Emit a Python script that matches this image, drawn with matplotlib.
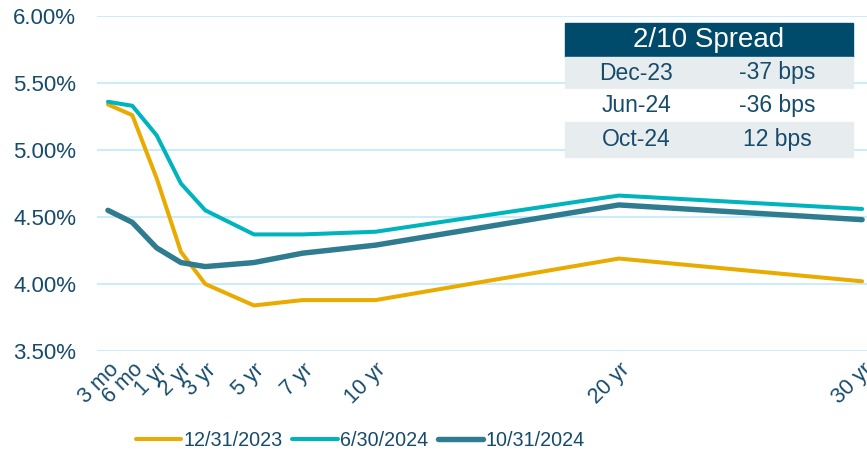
import matplotlib
matplotlib.use("Agg")
import matplotlib.pyplot as plt
from matplotlib.patches import Rectangle
from matplotlib.ticker import FuncFormatter

plt.rcParams["font.family"] = ["Liberation Sans", "DejaVu Sans"]

# --- data ---
maturities = ["3 mo", "6 mo", "1 yr", "2 yr", "3 yr", "5 yr", "7 yr", "10 yr", "20 yr", "30 yr"]
x_pos = [-1, 0, 1, 2, 3, 5, 7, 10, 20, 30]
dec23 = [5.34, 5.26, 4.79, 4.24, 4.00, 3.84, 3.88, 3.88, 4.19, 4.02]
jun24 = [5.36, 5.33, 5.11, 4.75, 4.55, 4.37, 4.37, 4.39, 4.66, 4.56]
oct24 = [4.55, 4.46, 4.27, 4.16, 4.13, 4.16, 4.23, 4.29, 4.59, 4.48]
series_names = ["12/31/2023", "6/30/2024", "10/31/2024"]

spread_dates = ["Dec-23", "Jun-24", "Oct-24"]
spread_vals = ["-37 bps", "-36 bps", "12 bps"]

TEXT = "#174B6B"
COLORS = ["#E9AB00", "#00B4BE", "#2F7B8F"]
WIDTHS = [2.9, 2.9, 3.9]

fig = plt.figure(figsize=(8.67, 4.58), dpi=100)
ax = fig.add_axes([97 / 867, 1 - 351 / 458, 1 - 97 / 867, (351 - 16) / 458])

for ys, name, c, lw in zip([dec23, jun24, oct24], series_names, COLORS, WIDTHS):
    ax.plot(x_pos, ys, color=c, lw=lw, label=name, solid_capstyle="round",
            solid_joinstyle="round")

ax.set_xlim(-1.45, 30.2)
ax.set_ylim(3.5, 6.0)
ax.set_yticks([3.5, 4.0, 4.5, 5.0, 5.5, 6.0])
ax.yaxis.set_major_formatter(FuncFormatter(lambda v, _: f"{v:.2f}%"))
ax.set_xticks(x_pos)
ax.set_xticklabels(maturities, rotation=45, ha="right", rotation_mode="anchor")
ax.tick_params(axis="both", length=0, labelsize=15.5, colors=TEXT)
ax.tick_params(axis="y", labelsize=16, pad=15)
ax.tick_params(axis="x", pad=6)
ax.grid(axis="y", color="#C9EDFB", lw=1.4)
ax.set_axisbelow(True)
for s in ax.spines.values():
    s.set_visible(False)

leg = fig.legend(loc="lower left", bbox_to_anchor=(122 / 867, -0.012), ncol=3,
                 frameon=False, fontsize=14.2, handlelength=2.3, handletextpad=0.1,
                 columnspacing=0.5, borderaxespad=0.3)
for t in leg.get_texts():
    t.set_color(TEXT)

# --- 2/10 spread table ---
left, right = 565 / 867, 853 / 867
rows_px = [23, 57, 89, 122, 157]
def fy(p):
    return 1 - p / 458

fig.patches.append(Rectangle((left, fy(rows_px[1])), right - left, fy(rows_px[0]) - fy(rows_px[1]),
                             transform=fig.transFigure, color="#004B6B", zorder=5))
fig.text((left + right) / 2, (fy(rows_px[0]) + fy(rows_px[1])) / 2, "2/10 Spread",
         color="white", fontsize=20, ha="center", va="center", zorder=6)
for i, (d, v) in enumerate(zip(spread_dates, spread_vals)):
    top, bot = fy(rows_px[i + 1]), fy(rows_px[i + 2])
    fc = "#E7ECEE" if i % 2 == 0 else "white"
    fig.patches.append(Rectangle((left, bot), right - left, top - bot,
                                 transform=fig.transFigure, color=fc, zorder=5))
    ym = (top + bot) / 2
    fig.text(636 / 867, ym, d, color=TEXT, fontsize=16.5, ha="center", va="center", zorder=6)
    fig.text(777 / 867, ym, v, color=TEXT, fontsize=16.5, ha="center", va="center", zorder=6)

fig.savefig("out.png", dpi=100)
